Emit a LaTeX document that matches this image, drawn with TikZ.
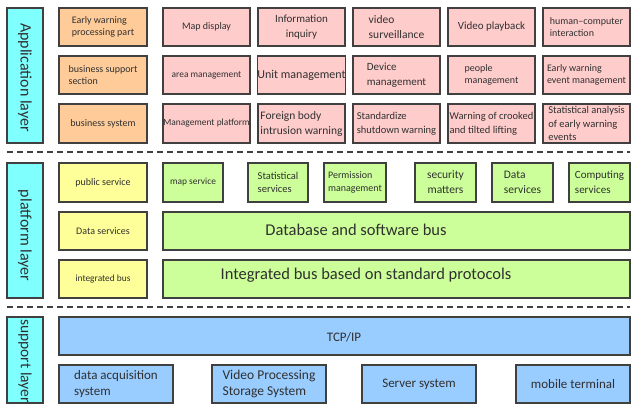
\documentclass[tikz,border=0pt]{standalone}
\usepackage{fontspec}
\setmainfont{Carlito}
\definecolor{cyanF}{HTML}{80FFFF}
\definecolor{orangeF}{HTML}{FFCC99}
\definecolor{pinkF}{HTML}{FFCCCC}
\definecolor{yellowF}{HTML}{FFFF99}
\definecolor{greenF}{HTML}{CCFF99}
\definecolor{blueF}{HTML}{99CCFF}
\definecolor{edge}{HTML}{404040}
\definecolor{txt}{HTML}{303030}
\newcommand\mybox[7]{\node[box,#2,minimum width={(#5-#3)*1bp},minimum height={(#6-#4)*1bp}] (#1) at ({(#3+#5)/2},{(#4+#6)/2}) {#7};}
\begin{document}
\begin{tikzpicture}[x=1bp,y=-1bp,
  box/.style={draw=edge,line width=1.4bp,inner sep=0pt,text=txt},
  lab/.style={fill=cyanF},
  org/.style={fill=orangeF},
  pnk/.style={fill=pinkF},
  yel/.style={fill=yellowF},
  grn/.style={fill=greenF},
  blu/.style={fill=blueF},
  ts/.style={font=\fontsize{9.4bp}{12.5bp}\selectfont},
  ta/.style={font=\fontsize{10bp}{12.5bp}\selectfont},
  tm/.style={font=\fontsize{10.5bp}{13.5bp}\selectfont},
  tb/.style={font=\fontsize{11bp}{15bp}\selectfont},
  tc/.style={font=\fontsize{11.5bp}{15bp}\selectfont},
  tu/.style={font=\fontsize{12bp}{15bp}\selectfont},
  td/.style={font=\fontsize{13bp}{16bp}\selectfont},
  big/.style={font=\fontsize{16.5bp}{20bp}\selectfont,text=txt},
  lay/.style={font=\fontsize{16bp}{20bp}\selectfont,text=txt,inner sep=0pt},
  sep/.style={draw=edge,line width=2bp,dash pattern=on 6bp off 4bp}
]
\useasboundingbox (0,0) rectangle (637,412);
% layer labels
\mybox{appL}{lab}{7}{8}{43}{143}{}
\mybox{platL}{lab}{7}{163}{43}{298}{}
\mybox{supL}{lab}{7}{317}{43}{403}{}
\node[lay,rotate=-90] (appT) at ([yshift=-2bp]appL.center) {Application layer};
\node[lay,rotate=-90] (platT) at ([yshift=-5bp]platL.center) {platform layer};
\node[lay,rotate=-90,font=\fontsize{15.5bp}{20bp}\selectfont] (supT) at ([yshift=-1bp]supL.center) {support layer};
% application layer
\mybox{o1}{org,ta,align=left}{59}{8}{147}{46}{Early warning\\processing part}
\mybox{o2}{org,ta,align=left}{59}{56}{147}{94}{business support\\section}
\mybox{o3}{org,ta}{59}{104}{147}{143}{business system}
\mybox{p11}{pnk,ta}{163}{8}{250}{46}{Map display}
\mybox{p12}{pnk,tb,align=center}{258}{8}{345}{46}{Information\\inquiry}
\mybox{p13}{pnk,tc,align=left}{353}{8}{440}{46}{video\\surveillance}
\mybox{p14}{pnk,tb}{448}{8}{535}{46}{Video playback}
\mybox{p15}{pnk,ta,align=left}{543}{8}{630}{46}{human–computer\\interaction}
\mybox{p21}{pnk,ts}{163}{56}{250}{94}{area management}
\mybox{p22}{pnk,tu}{258}{56}{345}{94}{Unit management}
\mybox{p23}{pnk,tb,align=left}{353}{56}{440}{94}{Device\\management}
\mybox{p24}{pnk,ta,align=left}{448}{56}{535}{94}{people\\management}
\mybox{p25}{pnk,ta,align=left}{543}{56}{630}{94}{Early warning\\event management}
\mybox{p31}{pnk,ts}{163}{104}{250}{143}{Management platform}
\mybox{p32}{pnk,tc,align=left}{258}{104}{345}{143}{Foreign body\\intrusion warning}
\mybox{p33}{pnk,tm,align=left}{353}{104}{440}{143}{Standardize\\shutdown warning}
\mybox{p34}{pnk,tm,align=left}{448}{104}{535}{143}{Warning of crooked\\and tilted lifting}
\mybox{p35}{pnk,tm,align=left}{543}{104}{630}{143}{Statistical analysis\\of early warning\\events}
% separators
\coordinate (d1a) at (7,152);
\coordinate (d1b) at (630,152);
\coordinate (d2a) at (7,307);
\coordinate (d2b) at (630,307);
\draw[sep] (d1a) -- (d1b);
\draw[sep] (d2a) -- (d2b);
% platform layer
\mybox{y1}{yel,ta}{59}{163}{147}{202}{public service}
\mybox{y2}{yel,ta}{59}{212}{147}{250}{Data services}
\mybox{y3}{yel,ts}{59}{260}{147}{298}{integrated bus}
\mybox{g1}{grn,ts}{163}{163}{223}{202}{map service}
\mybox{g2}{grn,tm,align=left}{248}{163}{308}{202}{Statistical\\services}
\mybox{g3}{grn,ta,align=left}{324}{163}{386}{202}{Permission\\management}
\mybox{g4}{grn,tc,align=center}{415}{163}{476}{202}{security\\matters}
\mybox{g5}{grn,tc,align=left}{492}{163}{553}{202}{Data\\services}
\mybox{g6}{grn,tb,align=left}{569}{163}{630}{202}{Computing\\services}
\mybox{bar1}{grn}{163}{212}{630}{250}{}
\mybox{bar2}{grn}{163}{260}{630}{298}{}
\node[big] (bar1T) at (356,230) {Database and software bus};
\node[big] (bar2T) at (366,275) {Integrated bus based on standard protocols};
% support layer
\mybox{tcp}{blu}{59}{317}{630}{355}{}
\node[td,text=txt] (tcpT) at (344,337) {TCP/IP};
\mybox{s1}{blu,td,align=left}{59}{365}{173}{403}{data acquisition\\system}
\mybox{s2}{blu,td,align=left,font=\fontsize{13.5bp}{16bp}\selectfont}{212}{365}{326}{403}{Video Processing\\Storage System}
\mybox{s3}{blu,td}{362}{365}{476}{403}{Server system}
\mybox{s4}{blu,td}{516}{365}{630}{403}{mobile terminal}
\end{tikzpicture}
\end{document}
